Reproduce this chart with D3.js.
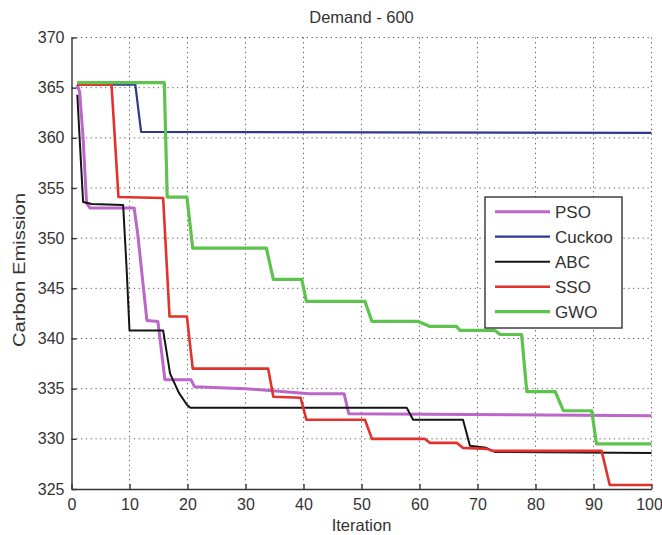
<!DOCTYPE html>
<html>
<head>
<meta charset="utf-8">
<script src="https://cdn.jsdelivr.net/npm/d3@7"></script>
<style>
  html, body { margin: 0; padding: 0; background: #fff; }
  svg { display: block; font-family: 'Liberation Sans', Arial, Helvetica, sans-serif; }
  .grid line { stroke: #555; stroke-width: 1; stroke-dasharray: 1.2 3.6; }
  .axis path, .axis line { stroke: #333; stroke-width: 1.4; }
  .axis text { fill: #333; font-size: 16px; }
  .series { fill: none; stroke-linejoin: round; stroke-linecap: butt; }
</style>
</head>
<body>
<div id="chart"></div>
<script>
const title = 'Demand - 600';
const xLabel = 'Iteration';
const yLabel = 'Carbon Emission';
const xTicks = [0, 10, 20, 30, 40, 50, 60, 70, 80, 90, 100];
const yTicks = [325, 330, 335, 340, 345, 350, 355, 360, 365, 370];

const names = ['PSO', 'Cuckoo', 'ABC', 'SSO', 'GWO'];
const colors = ['#bb66c8', '#2d3990', '#141414', '#e2322d', '#5ec34d'];
const widths = [3, 2.2, 2, 2.6, 3.2];

// [iteration, best value] break points
const pso = [
  [1, 365.3], [1.4, 364.6], [2.0, 360], [2.6, 353.5], [3.2, 353.0], [10.8, 353.0],
  [11.4, 350.5], [13.0, 341.8], [14.9, 341.7], [16.1, 335.9], [20.6, 335.9],
  [21.2, 335.2], [30, 335.0], [41, 334.5], [47, 334.5], [47.8, 332.5], [100, 332.3]
];
const cuckoo = [[1, 365.3], [11, 365.3], [12, 360.6], [100, 360.5]];
const abc = [
  [1, 364.3], [1.4, 360], [2.0, 353.6], [3.5, 353.4], [8.9, 353.3], [9.5, 347],
  [10.0, 340.8], [15.8, 340.8], [17.0, 336.5], [18.5, 334.6], [19.9, 333.4],
  [20.5, 333.1], [57.8, 333.1], [58.9, 331.9], [67.5, 331.9], [68.7, 329.3],
  [71.5, 329.1], [73, 328.7], [100, 328.6]
];
const sso = [
  [1, 365.3], [6.9, 365.3], [8.1, 354.1], [15.8, 354.0], [16.9, 342.2], [19.9, 342.2],
  [20.9, 337.0], [33.9, 337.0], [34.8, 334.2], [39.5, 334.1], [40.5, 331.9],
  [50.6, 331.9], [51.8, 330.0], [60.9, 330.0], [61.8, 329.6], [66.4, 329.6],
  [67.5, 329.1], [71.6, 329.0], [72.5, 328.8], [91.4, 328.8], [92.8, 325.4], [100, 325.4]
];
const gwo = [
  [1, 365.5], [16.0, 365.5], [16.5, 354.1], [19.9, 354.1], [20.9, 349.0], [33.6, 349.0],
  [34.8, 345.9], [39.7, 345.9], [40.5, 343.7], [50.6, 343.7], [51.8, 341.7],
  [59.8, 341.7], [61.8, 341.2], [66.4, 341.2], [67, 340.8], [73, 340.8], [73.9, 340.4],
  [77.6, 340.4], [78.5, 334.7], [83.4, 334.7], [84.8, 332.8], [89.7, 332.8],
  [90.5, 329.5], [100, 329.5]
];
const seriesValues = [pso, cuckoo, abc, sso, gwo];

const width = 662;
const height = 535;
const plot = { left: 71.5, right: 651.5, top: 37.5, bottom: 489 };

const svg = d3
  .select('#chart')
  .append('svg')
  .attr('width', width)
  .attr('height', height);

const x = d3.scaleLinear().domain([0, 100]).range([plot.left, plot.right]);
const y = d3.scaleLinear().domain([325, 370]).range([plot.bottom, plot.top]);

// dotted grid
const grid = svg.append('g').attr('class', 'grid');
grid
  .selectAll('line.gx')
  .data(xTicks.filter(d => d > 0))
  .join('line')
  .attr('class', 'gx')
  .attr('x1', d => x(d))
  .attr('x2', d => x(d))
  .attr('y1', plot.top)
  .attr('y2', plot.bottom);
grid
  .selectAll('line.gy')
  .data(yTicks.filter(d => d > 325))
  .join('line')
  .attr('class', 'gy')
  .attr('x1', plot.left)
  .attr('x2', plot.right)
  .attr('y1', d => y(d))
  .attr('y2', d => y(d));

// series
const line = d3.line(d => x(d[0]), d => y(d[1]));
svg
  .append('g')
  .selectAll('path')
  .data(seriesValues)
  .join('path')
  .attr('class', 'series')
  .attr('stroke', (d, i) => colors[i])
  .attr('stroke-width', (d, i) => widths[i])
  .attr('d', line);

// axes, ticks pointing inwards
svg
  .append('g')
  .attr('class', 'axis')
  .attr('transform', `translate(0, ${plot.bottom})`)
  .call(d3.axisBottom(x).tickValues(xTicks).tickSizeInner(-5).tickSizeOuter(0).tickPadding(9))
  .call(g =>
    g
      .selectAll('text')
      .attr('dy', '0.75em')
      .attr('dx', d => (d === 100 ? -2.5 : 0))
  );

svg
  .append('g')
  .attr('class', 'axis')
  .attr('transform', `translate(${plot.left}, 0)`)
  .call(d3.axisLeft(y).tickValues(yTicks).tickSizeInner(-5).tickSizeOuter(0).tickPadding(7));

// titles
svg
  .append('text')
  .attr('x', (plot.left + plot.right) / 2)
  .attr('y', 23)
  .attr('text-anchor', 'middle')
  .attr('font-size', 16.5)
  .attr('fill', '#333')
  .text(title);

svg
  .append('text')
  .attr('x', (plot.left + plot.right) / 2)
  .attr('y', 531)
  .attr('text-anchor', 'middle')
  .attr('font-size', 16.5)
  .attr('fill', '#333')
  .text(xLabel);

svg
  .append('text')
  .attr('transform', `translate(25, 270) rotate(-90)`)
  .attr('text-anchor', 'middle')
  .attr('font-size', 16.5)
  .attr('textLength', 154)
  .attr('lengthAdjust', 'spacingAndGlyphs')
  .attr('fill', '#333')
  .text(yLabel);

// legend
const legend = svg.append('g').attr('transform', 'translate(485, 197)');
legend
  .append('rect')
  .attr('width', 137)
  .attr('height', 131)
  .attr('fill', '#fff')
  .attr('stroke', '#333')
  .attr('stroke-width', 1.4);

const rows = legend
  .selectAll('g.row')
  .data(names)
  .join('g')
  .attr('class', 'row')
  .attr('transform', (d, i) => `translate(0, ${14.7 + i * 25})`);

rows
  .append('line')
  .attr('x1', 10)
  .attr('x2', 65)
  .attr('stroke', (d, i) => colors[i])
  .attr('stroke-width', (d, i) => widths[i]);

rows
  .append('text')
  .attr('x', 70)
  .attr('dy', '0.36em')
  .attr('font-size', 17)
  .attr('fill', '#333')
  .text(d => d);
</script>
</body>
</html>
